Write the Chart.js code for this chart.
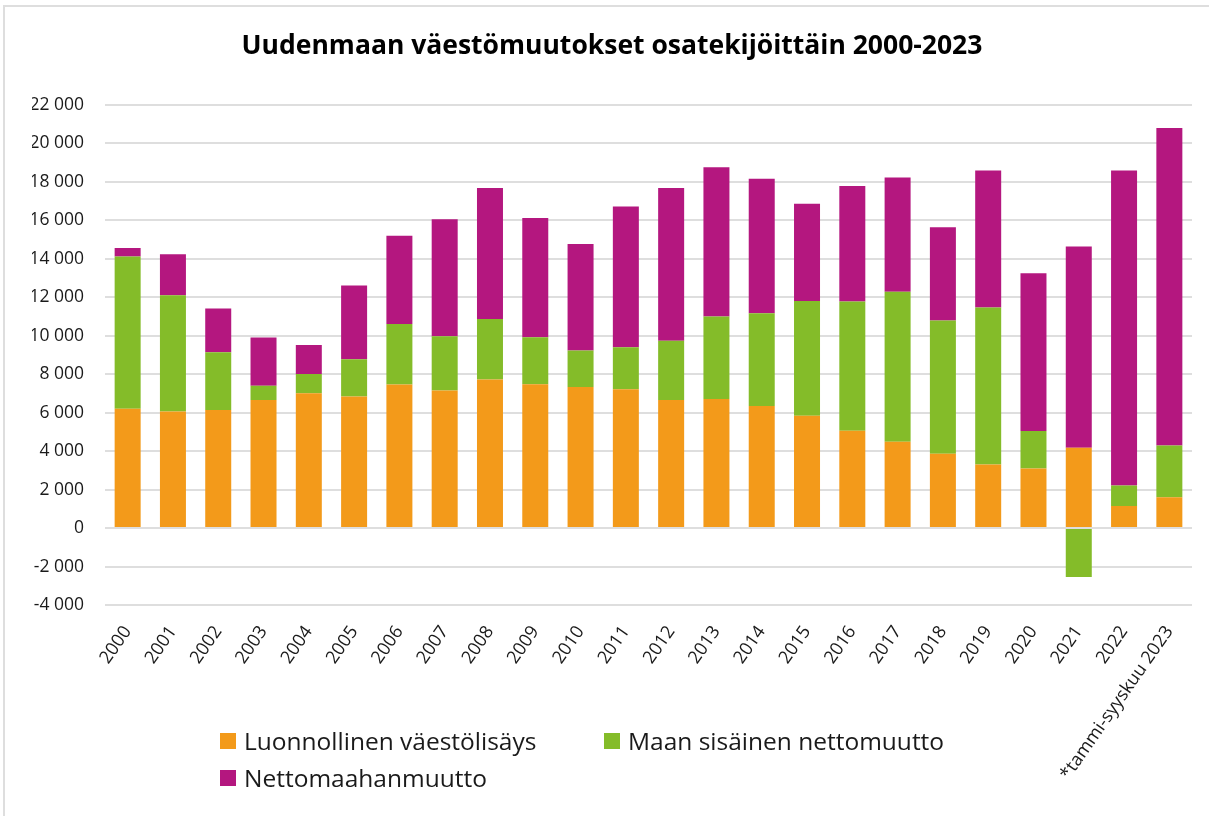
<!DOCTYPE html>
<html lang="fi">
  <head>
    <meta charset="UTF-8" />
    <script src="https://cdn.jsdelivr.net/npm/chart.js@4.4.0/dist/chart.umd.min.js"></script>
    <title>Uudenmaan väestömuutokset</title>
    <style>
      body {
        margin: 0;
        background: #fff;
      }
      .wrap {
        position: relative;
        width: 1209px;
        height: 816px;
        overflow: hidden;
        font-family: "Open Sans", "Noto Sans", sans-serif;
      }
      .frame {
        position: absolute;
        left: 3px;
        top: 5px;
        width: 1300px;
        height: 900px;
        border-top: 2px solid #dedede;
        border-left: 2px solid #dedede;
        pointer-events: none;
      }
      .legend-item {
        position: absolute;
        display: flex;
        align-items: center;
        font-size: 24.5px;
        color: #1a1a1a;
        white-space: nowrap;
      }
      .legend-item span.box {
        display: inline-block;
        width: 16px;
        height: 16px;
        margin-right: 8px;
      }
    </style>
  </head>
  <body>
    <div class="wrap">
      <canvas id="chart" width="1209" height="816"></canvas>
      <div class="frame"></div>
      <div id="legend"></div>
    </div>
    <script>
      const years = [
        "2000", "2001", "2002", "2003", "2004", "2005", "2006", "2007",
        "2008", "2009", "2010", "2011", "2012", "2013", "2014", "2015",
        "2016", "2017", "2018", "2019", "2020", "2021", "2022",
        "*tammi-syyskuu 2023",
      ];
      const luonnollinen = [
        6200, 6060, 6130, 6650, 7010, 6840, 7460, 7150, 7720, 7470, 7330, 7210,
        6660, 6710, 6340, 5840, 5060, 4480, 3860, 3300, 3090, 4170, 1150, 1600,
      ];
      const sisainen = [
        7910, 6040, 3010, 745, 1000, 1940, 3140, 2820, 3140, 2450, 1900, 2190,
        3070, 4290, 4830, 5960, 6720, 7800, 6930, 8170, 1960, -2550, 1060, 2690,
      ];
      const maahanmuutto = [
        450, 2130, 2270, 2510, 1510, 3830, 4590, 6080, 6810, 6190, 5540, 7320,
        7940, 7750, 6990, 5060, 6000, 5940, 4850, 7120, 8190, 10460, 16380, 16510,
      ];
      const seriesNames = [
        "Luonnollinen väestölisäys",
        "Maan sisäinen nettomuutto",
        "Nettomaahanmuutto",
      ];
      const colors = ["#F39A1A", "#84BC29", "#B4177F"];

      function fmt(v) {
        const s = String(Math.abs(v)).replace(/\B(?=(\d{3})+(?!\d))/g, " ");
        return (v < 0 ? "-" : "") + s;
      }

      const font = "'Open Sans', 'Noto Sans', sans-serif";

      new Chart(document.getElementById("chart"), {
        type: "bar",
        data: {
          labels: years,
          datasets: [
            { label: seriesNames[0], data: luonnollinen, backgroundColor: colors[0] },
            { label: seriesNames[1], data: sisainen, backgroundColor: colors[1] },
            { label: seriesNames[2], data: maahanmuutto, backgroundColor: colors[2] },
          ],
        },
        options: {
          responsive: false,
          animation: false,
          barPercentage: 0.574,
          categoryPercentage: 1,
          layout: { padding: { left: 32, right: 17, top: 0, bottom: 0 } },
          plugins: {
            legend: { display: false },
            tooltip: { enabled: false },
            title: {
              display: true,
              text: "Uudenmaan väestömuutokset osatekijöittäin 2000-2023",
              color: "#000",
              font: { family: font, size: 26.5, weight: "bold", lineHeight: 1.2 },
              padding: { top: 31, bottom: 42 },
            },
          },
          scales: {
            x: {
              stacked: true,
              grid: { display: false },
              border: { display: false },
              ticks: {
                color: "#1a1a1a",
                font: { family: font, size: 18 },
                minRotation: 55,
                maxRotation: 55,
                autoSkip: false,
                padding: 9,
              },
              afterFit: (scale) => {
                scale.height = 211;
              },
            },
            y: {
              stacked: true,
              min: -4000,
              max: 22000,
              grid: { color: "#dedede", lineWidth: 2, drawTicks: false },
              border: { display: false },
              ticks: {
                stepSize: 2000,
                color: "#1a1a1a",
                font: { family: font, size: 17.5 },
                padding: 21,
                callback: (v) => fmt(v),
              },
              afterFit: (scale) => {
                scale.width = 73;
              },
            },
          },
        },
      });

      const legendPos = [
        { left: 220, top: 724 },
        { left: 604, top: 724 },
        { left: 220, top: 761 },
      ];
      const legend = document.getElementById("legend");
      seriesNames.forEach((name, i) => {
        const item = document.createElement("div");
        item.className = "legend-item";
        item.style.left = legendPos[i].left + "px";
        item.style.top = legendPos[i].top + "px";
        const box = document.createElement("span");
        box.className = "box";
        box.style.background = colors[i];
        item.appendChild(box);
        item.appendChild(document.createTextNode(name));
        legend.appendChild(item);
      });
    </script>
  </body>
</html>
